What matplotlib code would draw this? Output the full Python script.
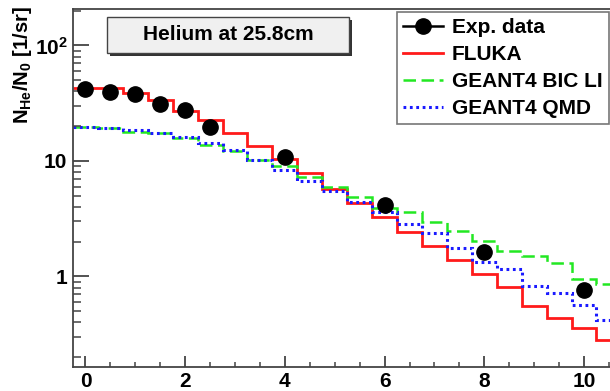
import numpy as np
import matplotlib
matplotlib.use("Agg")
import matplotlib.pyplot as plt
from matplotlib.lines import Line2D
from matplotlib.patches import Rectangle

plt.rcParams["font.family"] = "Liberation Sans"
plt.rcParams["font.weight"] = "bold"
plt.rcParams["mathtext.fontset"] = "custom"
plt.rcParams["mathtext.rm"] = "Liberation Sans:bold"
plt.rcParams["mathtext.bf"] = "Liberation Sans:bold"
plt.rcParams["mathtext.default"] = "bf"
plt.rcParams["lines.scale_dashes"] = False

# ---- angular distribution, helium fragments at 25.8 cm ----
bin_centres = np.arange(0.0, 10.51, 0.5)
bin_width = 0.5

fluka = [42.5, 42.5, 38.5, 33.5, 27.0, 22.8, 17.6, 13.5, 10.4, 7.8, 5.7,
         4.35, 3.3, 2.42, 1.85, 1.39, 1.05, 0.81, 0.555, 0.435, 0.356, 0.28]
g4_bic = [19.8, 19.2, 17.9, 17.6, 15.7, 13.8, 12.2, 10.3, 9.0, 7.2, 5.95,
          4.85, 3.95, 3.6, 2.98, 2.5, 2.03, 1.66, 1.5, 1.3, 0.96, 0.86]
g4_qmd = [19.8, 19.4, 18.5, 17.6, 16.2, 14.2, 12.5, 10.2, 8.4, 6.75, 5.45,
          4.45, 3.65, 2.85, 2.37, 1.78, 1.34, 1.15, 0.83, 0.72, 0.566, 0.42]

exp_angle = [0, 0.5, 1, 1.5, 2, 2.5, 4, 6, 8, 10]
exp_yield = [41.8, 39.8, 38.0, 31.2, 27.7, 19.8, 10.8, 4.16, 1.64, 0.76]

edges = np.append(bin_centres - bin_width / 2, bin_centres[-1] + bin_width / 2)

W, H = 610, 391
fig = plt.figure(figsize=(W / 100, H / 100), dpi=100)
ax = fig.add_axes([73 / W, (H - 367) / H, 548.4 / W, 358 / H])

ax.stairs(fluka, edges, baseline=None, color="#ff1a1a", lw=2.0)
ax.stairs(g4_bic, edges, baseline=None, color="#22e822", lw=1.8,
          linestyle=(0, (9, 4)))
ax.stairs(g4_qmd, edges, baseline=None, color="#1a1aff", lw=2.2,
          linestyle=(0, (2.0, 2.6)))
ax.plot(exp_angle, exp_yield, "o", color="black", ms=11, zorder=5)

ax.set_yscale("log")
ax.set_xlim(-0.25, 10.75)
ax.set_ylim(0.1646, 207)

ax.set_xticks([0, 2, 4, 6, 8, 10])
ax.set_xticks(np.arange(0, 10.6, 0.5), minor=True)
ax.set_yticks([1, 10, 100])
ax.set_yticklabels(["1", "10", r"$\mathbf{10^{2}}$"])

for s in ["left", "bottom", "top"]:
    ax.spines[s].set_color("#444444")
    ax.spines[s].set_linewidth(1.3)
ax.spines["right"].set_visible(False)

ax.tick_params(axis="both", which="both", direction="in", colors="#444444",
               labelcolor="black", labelsize=15, top=False, right=False)
ax.tick_params(axis="y", which="major", length=11.5, width=1.3, pad=4)
ax.tick_params(axis="y", which="minor", length=5.8, width=1.1)
ax.tick_params(axis="x", which="major", length=8, width=1.3, pad=3.5)
ax.tick_params(axis="x", which="minor", length=3.6, width=1.1)

fig.text(22 / W, 1 - 65 / H, r"N$_{\mathbf{He}}$/N$_{\mathbf{0}}$ [1/sr]",
         rotation=90, ha="center", va="center", fontsize=14.5)

# label box with drop shadow
bx0, by0, bw, bh = 107 / W, 1 - 53 / H, 242 / W, 36 / H
fig.patches.append(Rectangle((bx0 + 3 / W, by0 - 3 / H), bw, bh,
                             transform=fig.transFigure, facecolor="#333333",
                             edgecolor="none", zorder=1))
fig.patches.append(Rectangle((bx0, by0), bw, bh, transform=fig.transFigure,
                             facecolor="#f0f0f0", edgecolor="#444444",
                             lw=1.0, zorder=2))
fig.text(bx0 + bw / 2, by0 + bh / 2, "Helium at 25.8cm", ha="center",
         va="center", fontsize=15, zorder=3)

handles = [
    Line2D([], [], color="black", marker="o", ms=11, lw=1.8),
    Line2D([], [], color="#ff1a1a", lw=2.0),
    Line2D([], [], color="#22e822", lw=1.8, linestyle=(0, (9, 4))),
    Line2D([], [], color="#1a1aff", lw=2.2, linestyle=(0, (2.0, 2.6))),
]
labels = ["Exp. data", "FLUKA", "GEANT4 BIC LI", "GEANT4 QMD"]
leg = fig.legend(handles, labels, loc="upper left",
                 bbox_to_anchor=(396.7 / W, 1 - 12 / H), fontsize=15,
                 frameon=True, fancybox=False, borderaxespad=0,
                 handlelength=1.9, handletextpad=0.45, labelspacing=0.38,
                 borderpad=0.3)
leg.get_frame().set_edgecolor("#555555")
leg.get_frame().set_linewidth(1.2)

fig.savefig("out.png", dpi=100)
